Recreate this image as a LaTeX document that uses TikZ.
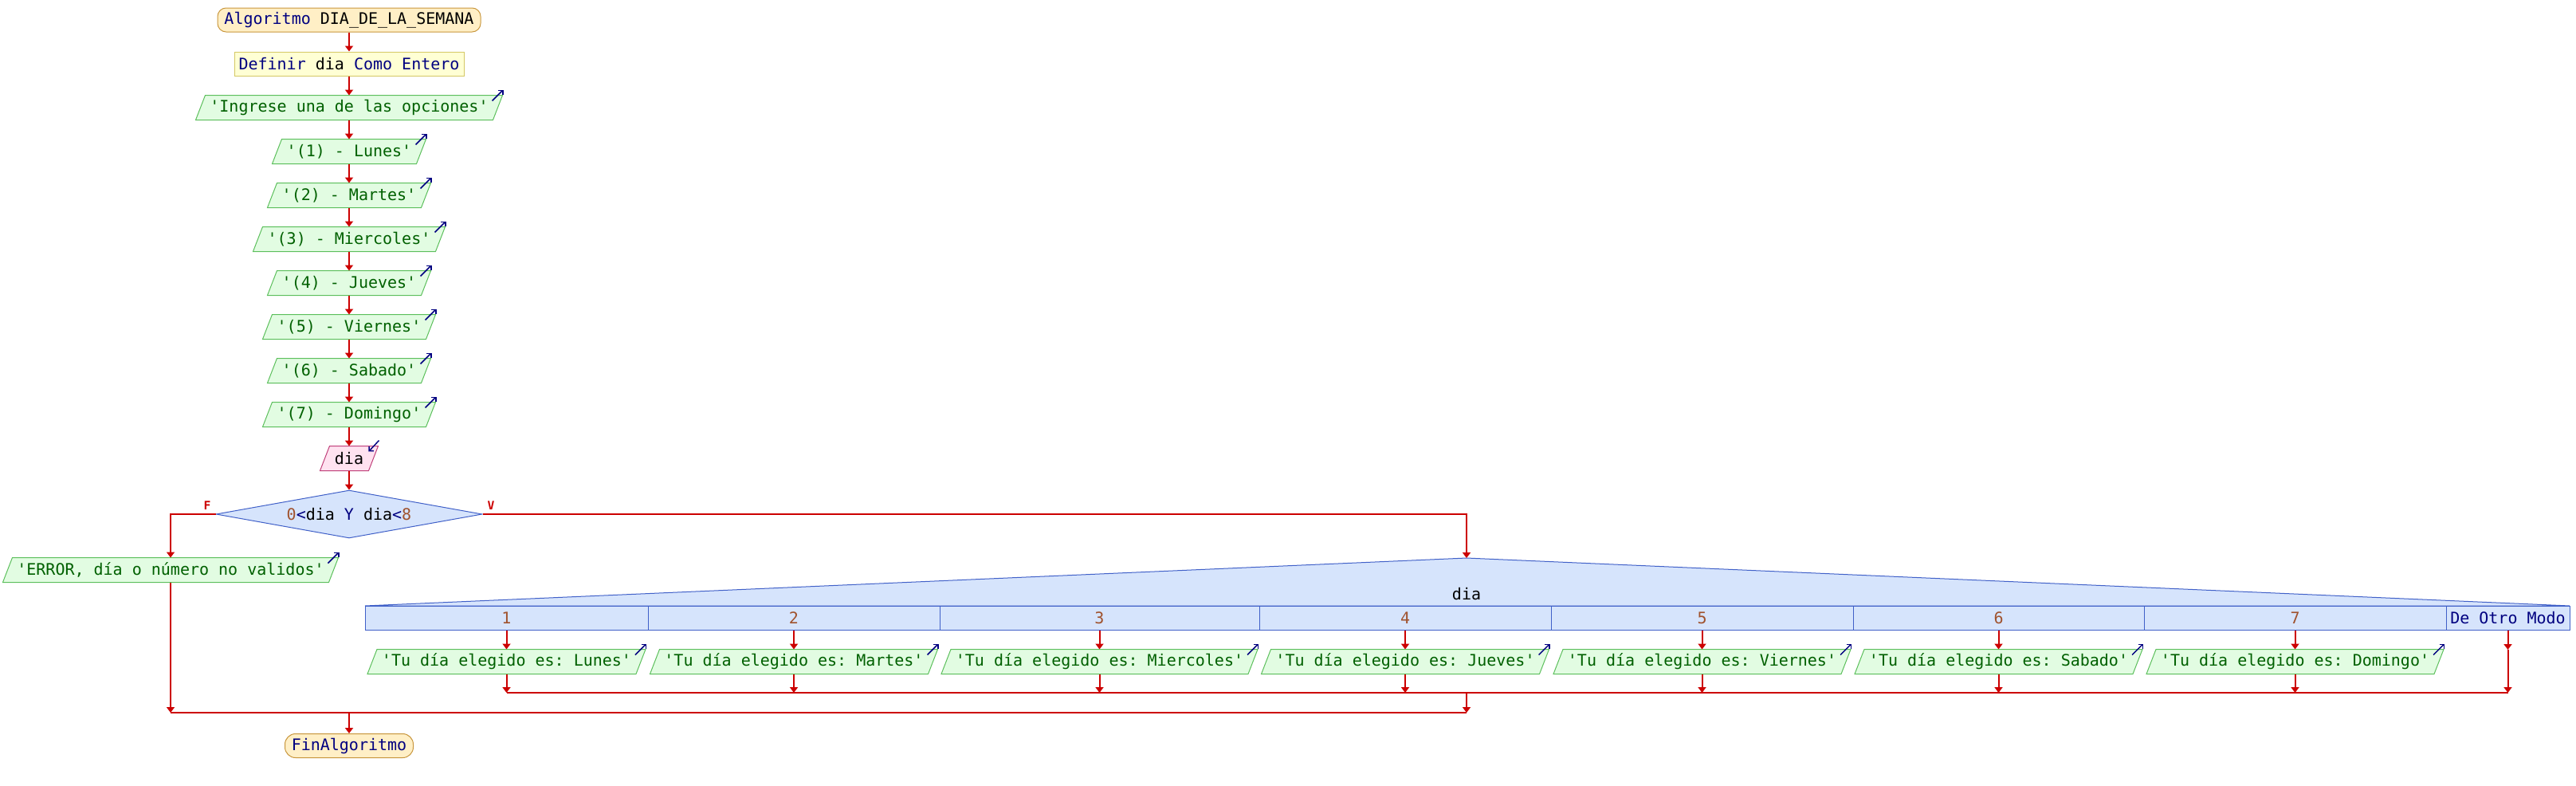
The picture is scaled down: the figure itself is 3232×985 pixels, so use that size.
\documentclass[tikz,border=0pt]{standalone}
\usepackage{fontspec}
\setmonofont{DejaVu Sans Mono}
\usetikzlibrary{arrows.meta,calc,shapes.geometric,backgrounds}
\definecolor{termfill}{HTML}{FFEFC6}
\definecolor{termdraw}{HTML}{C8963C}
\definecolor{deffill}{HTML}{FFFFD4}
\definecolor{defdraw}{HTML}{D4C864}
\definecolor{outfill}{HTML}{E2FCE2}
\definecolor{outdraw}{HTML}{5CBF5C}
\definecolor{outtext}{HTML}{006000}
\definecolor{infill}{HTML}{FFE2F0}
\definecolor{indraw}{HTML}{C0407A}
\definecolor{decfill}{HTML}{D6E4FC}
\definecolor{decdraw}{HTML}{4060C8}
\definecolor{flowred}{HTML}{CC0000}
\definecolor{kw}{HTML}{000080}
\definecolor{numc}{HTML}{A0522D}
\newcommand{\mypara}[2]{\draw[#2] ([shift={(-6,0)}]#1.south west) -- ([shift={(6,0)}]#1.north west) -- ([shift={(6,0)}]#1.north east) -- ([shift={(-6,0)}]#1.south east) -- cycle;}
\begin{document}
\begin{tikzpicture}[x=0.75pt,y=-0.75pt,
  font=\ttfamily\fontsize{15pt}{18pt}\selectfont,
  pxw/.style={minimum width=#1*0.75pt},
  base/.style={inner sep=0pt, minimum height=22.5pt, line width=0.75pt},
  term/.style={base, draw=termdraw, fill=termfill, text=kw, rounded corners=8pt},
  defbox/.style={base, draw=defdraw, fill=deffill},
  outtxt/.style={base, text=outtext},
  intxt/.style={base, text=black},
  outshape/.style={draw=outdraw, fill=outfill, line width=0.75pt},
  inshape/.style={draw=indraw, fill=infill, line width=0.75pt},
  decbox/.style={diamond, draw=decdraw, fill=decfill, inner sep=0pt, line width=0.75pt, aspect=5.57, minimum width=250.5pt, minimum height=45pt},
  cell/.style={base, draw=decdraw, fill=decfill, text=numc},
  flow/.style={draw=flowred, line width=1.5pt, -{Triangle[length=5.25pt,width=7.5pt]}},
  plain/.style={draw=flowred, line width=1.5pt},
  icon/.style={draw=kw, line width=1.1pt, -{Straight Barb[length=3pt,width=6pt]}},
  tf/.style={text=flowred, font=\ttfamily\bfseries\fontsize{11pt}{13pt}\selectfont, inner sep=0pt}
]
\useasboundingbox (0,0) rectangle (3232,985);

% main column
\node[term, pxw=330] (start) at (438,25) {Algoritmo {\color{black}DIA\_DE\_LA\_SEMANA}};
\node[defbox, pxw=288] (def) at (438,80) {{\color{kw}Definir} dia {\color{kw}Como Entero}};
\node[outtxt, pxw=372] (o0) at (438,135) {'Ingrese una de las opciones'};
\node[outtxt, pxw=180] (o1) at (438,190) {'(1) - Lunes'};
\node[outtxt, pxw=192] (o2) at (438,245) {'(2) - Martes'};
\node[outtxt, pxw=228] (o3) at (438,300) {'(3) - Miercoles'};
\node[outtxt, pxw=192] (o4) at (438,355) {'(4) - Jueves'};
\node[outtxt, pxw=204] (o5) at (438,410) {'(5) - Viernes'};
\node[outtxt, pxw=192] (o6) at (438,465) {'(6) - Sabado'};
\node[outtxt, pxw=204] (o7) at (438,520) {'(7) - Domingo'};
\node[intxt, pxw=60] (in) at (438,575) {dia};
\node[decbox] (dec) at (438,645) {{\color{numc}0}{\color{kw}<}dia {\color{kw}Y} dia{\color{kw}<}{\color{numc}8}};
\node[outtxt, pxw=408] (err) at (214,715) {'ERROR, día o número no validos'};
\node[tf] (lf) at (260,634) {F};
\node[tf] (lv) at (616,634) {V};

% case structure
\coordinate (roof) at (1840,700);
\draw[draw=decdraw, fill=decfill, line width=0.75pt] (458,760) -- (roof) -- (3224,760) -- cycle;
\node[inner sep=0pt, text=black] (sel) at (1840,745) {dia};
\node[cell, pxw=355] (k1) at (635.5,775) {1};
\node[cell, pxw=366] (k2) at (996,775) {2};
\node[cell, pxw=401] (k3) at (1379.5,775) {3};
\node[cell, pxw=366] (k4) at (1763,775) {4};
\node[cell, pxw=379] (k5) at (2135.5,775) {5};
\node[cell, pxw=365] (k6) at (2507.5,775) {6};
\node[cell, pxw=379] (k7) at (2879.5,775) {7};
\node[cell, pxw=155, text=kw] (kd) at (3146.5,775) {De Otro Modo};

\node[outtxt, pxw=336] (c1) at (635.5,830) {'Tu día elegido es: Lunes'};
\node[outtxt, pxw=348] (c2) at (996,830) {'Tu día elegido es: Martes'};
\node[outtxt, pxw=384] (c3) at (1379.5,830) {'Tu día elegido es: Miercoles'};
\node[outtxt, pxw=348] (c4) at (1763,830) {'Tu día elegido es: Jueves'};
\node[outtxt, pxw=360] (c5) at (2135.5,830) {'Tu día elegido es: Viernes'};
\node[outtxt, pxw=348] (c6) at (2507.5,830) {'Tu día elegido es: Sabado'};
\node[outtxt, pxw=360] (c7) at (2879.5,830) {'Tu día elegido es: Domingo'};

\node[term, pxw=161, rounded corners=10pt] (end) at (438,935.5) {FinAlgoritmo};

% shapes behind texts
\begin{scope}[on background layer]
\foreach \n in {o0,o1,o2,o3,o4,o5,o6,o7,err,c1,c2,c3,c4,c5,c6,c7} {\mypara{\n}{outshape}}
\mypara{in}{inshape}
\end{scope}

% icons
\foreach \n in {o0,o1,o2,o3,o4,o5,o6,o7,err,c1,c2,c3,c4,c5,c6,c7} {
  \draw[icon] ([shift={(-7,7)}]\n.north east) -- ([shift={(7,-7)}]\n.north east);
}
\draw[icon] ([shift={(7,-7)}]in.north east) -- ([shift={(-6,7)}]in.north east);

% connectors main column
\draw[flow] (start.south) -- (def.north);
\draw[flow] (def.south) -- (o0.north);
\draw[flow] (o0.south) -- (o1.north);
\draw[flow] (o1.south) -- (o2.north);
\draw[flow] (o2.south) -- (o3.north);
\draw[flow] (o3.south) -- (o4.north);
\draw[flow] (o4.south) -- (o5.north);
\draw[flow] (o5.south) -- (o6.north);
\draw[flow] (o6.south) -- (o7.north);
\draw[flow] (o7.south) -- (in.north);
\draw[flow] (in.south) -- (dec.north);
\draw[flow] (dec.west) -| (err.north);
\draw[flow] (dec.east) -| (roof);

\coordinate (jA) at (1840,869);
\coordinate (jB) at (1840,894);
\coordinate (dm) at (3146.5,815);

\foreach \i in {1,...,7} {
  \draw[flow] (k\i.south) -- (c\i.north);
  \draw[flow] (c\i.south) -- (c\i.south |- jA);
}
\draw[flow] (kd.south) -- (dm);
\draw[flow] (dm) -- (dm |- jA);
\draw[plain] (c1.south |- jA) -- (dm |- jA);
\draw[flow] (jA) -- (jB);

\draw[flow] (err.south) -- (err.south |- jB);
\draw[plain] (err.south |- jB) -- (jB);
\draw[flow] (end.north |- jB) -- (end.north);
\end{tikzpicture}
\end{document}
